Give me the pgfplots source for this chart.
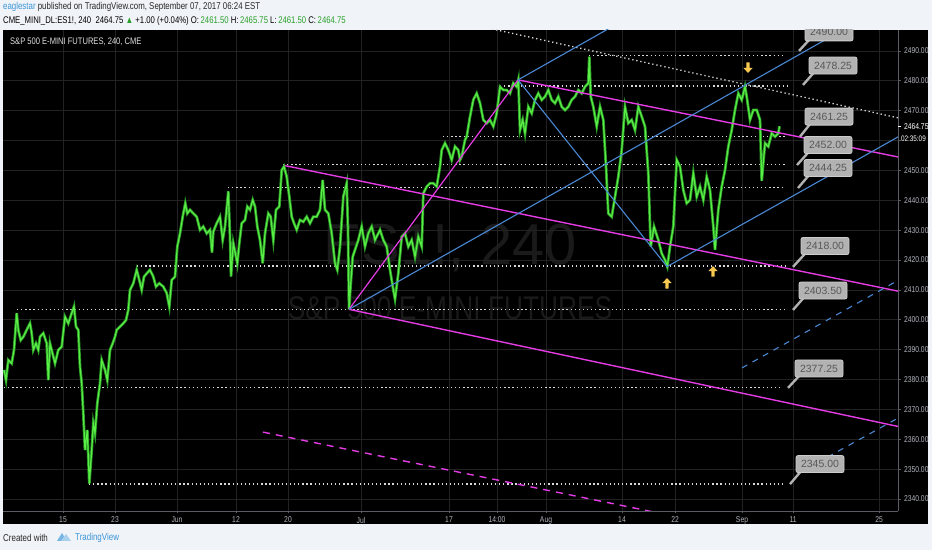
\documentclass[border=0pt]{standalone}
\usepackage{pgfplots}
\pgfplotsset{compat=1.18}
\usepackage{fontspec}
\setmainfont{Liberation Sans}
\newfontfamily\condfont{Liberation Sans}[FakeStretch=0.8]
\definecolor{bglight}{RGB}{240,243,248}
\definecolor{gridc}{RGB}{34,34,34}
\definecolor{axisc}{RGB}{90,92,100}
\definecolor{labc}{RGB}{178,181,190}
\definecolor{pricec}{RGB}{90,238,70}
\definecolor{priced}{RGB}{40,150,36}
\definecolor{magc}{RGB}{228,60,228}
\definecolor{bluec}{RGB}{74,136,212}
\definecolor{arrc}{RGB}{248,200,80}
\definecolor{calfill}{RGB}{178,178,178}
\definecolor{calborder}{RGB}{205,205,205}
\definecolor{caltext}{RGB}{88,88,88}
\definecolor{wm}{RGB}{26,26,26}
\definecolor{hdtext}{RGB}{40,40,40}
\definecolor{hdblue}{RGB}{60,150,215}
\definecolor{hdgreen}{RGB}{40,160,40}
\pgfdeclareplotmark{darrow}{%
  \pgfpathmoveto{\pgfqpoint{-1.6pt}{5.5pt}}\pgfpathlineto{\pgfqpoint{1.6pt}{5.5pt}}%
  \pgfpathlineto{\pgfqpoint{1.6pt}{0pt}}\pgfpathlineto{\pgfqpoint{4.6pt}{0pt}}%
  \pgfpathlineto{\pgfqpoint{0pt}{-5pt}}\pgfpathlineto{\pgfqpoint{-4.6pt}{0pt}}%
  \pgfpathlineto{\pgfqpoint{-1.6pt}{0pt}}\pgfpathclose\pgfusepathqfill}
\pgfdeclareplotmark{uarrow}{%
  \pgfpathmoveto{\pgfqpoint{-1.6pt}{-5.5pt}}\pgfpathlineto{\pgfqpoint{1.6pt}{-5.5pt}}%
  \pgfpathlineto{\pgfqpoint{1.6pt}{0pt}}\pgfpathlineto{\pgfqpoint{4.6pt}{0pt}}%
  \pgfpathlineto{\pgfqpoint{0pt}{5pt}}\pgfpathlineto{\pgfqpoint{-4.6pt}{0pt}}%
  \pgfpathlineto{\pgfqpoint{-1.6pt}{0pt}}\pgfpathclose\pgfusepathqfill}
\tikzset{
  dotline/.style={white!85!black, line width=1.3bp, dash pattern=on 1.3bp off 2.8bp},
  callbox/.style={draw=calborder, fill=calfill, rounded corners=2bp, minimum width=48bp, minimum height=17bp, inner sep=0pt, font=\fontsize{10.5}{10.5}\selectfont, text=caltext, line width=0.8bp},
}
\newcommand{\callout}[5]{%
  \draw[calfill, line width=2.4bp] (axis cs:#3,#4) -- (axis cs:#1-13,#2);
  \node[callbox] at (axis cs:#1,#2) {#5};}
\pgfplotstableread{
x y
4 2383.2
6 2379.8
8.3 2386.5
11.7 2385.4
14 2389.9
16.7 2402.2
18.3 2396.6
20.7 2393.2
23.3 2394.3
26.7 2396.6
30 2398.8
31.7 2395.5
33.3 2389.9
36 2392.1
38.3 2389.9
40 2394.3
43.3 2395.5
46.7 2392.1
48.3 2379.8
50 2392.1
53.3 2387.7
55 2385.4
58.3 2389.9
61.7 2391.0
65 2401.0
68.3 2398.8
71.7 2402.2
74 2404.4
76 2397.7
78.3 2396.6
80 2384.3
81.7 2378.7
83.3 2368.7
85 2356.4
87.3 2363.1
89.3 2345.2
91.7 2356.4
93.3 2365.3
95 2362.0
97.3 2372.0
100 2378.7
101.7 2386.5
105 2383.2
107.3 2379.8
110 2389.9
112.7 2392.1
115 2394.3
116.7 2396.6
120 2397.7
123.3 2398.8
126 2399.9
128.3 2403.3
130 2410.0
133.3 2412.2
136.7 2416.7
139.3 2413.3
141.7 2410.0
144 2414.4
146.7 2415.5
150 2416.7
153.3 2414.4
156 2411.1
159.3 2412.2
163.3 2411.1
166.7 2408.9
169.3 2404.4
171.7 2413.3
175 2414.4
177.3 2424.5
180 2428.9
182.7 2434.5
185.3 2439.0
187.3 2435.6
190 2436.8
193.3 2435.6
196.7 2434.5
200 2430.1
203.3 2431.2
206.7 2428.9
210 2430.1
212 2422.5
213.3 2429.5
216.7 2432.3
220 2434.5
222.7 2426.7
225 2431.2
228.3 2443.0
230 2427.8
231 2414.5
233.3 2425.6
236 2421.1
237.3 2418.9
239.3 2425.6
241.7 2432.3
245 2433.4
247.3 2437.9
250 2436.8
252.7 2440.1
255 2437.9
257.3 2431.2
260 2426.7
262.7 2418.9
265 2428.9
268.3 2435.6
270.7 2434.5
273.3 2426.7
276 2436.8
279.3 2437.9
281.7 2450.1
284 2451.3
286.7 2447.9
289.3 2441.2
291.7 2434.5
294 2432.3
296.7 2430.1
300 2433.4
303.3 2432.8
306.7 2434.5
310 2432.3
313.3 2434.5
316.7 2434.5
320 2436.8
322.7 2446.8
325 2436.8
328.3 2435.6
331.7 2428.9
335 2418.9
337.3 2416.7
340 2424.5
343.3 2441.2
346.7 2445.7
348 2430
349 2403.5
350.5 2411
352.7 2421.1
355 2423.4
358.3 2426.7
361.7 2431.2
365 2424.5
368.3 2428.9
371.7 2431.2
375 2426.7
380 2430.1
383.3 2426.7
386.7 2424.5
390 2416.7
393.3 2410.0
395 2406.9
398.3 2415.5
401.7 2427.8
405 2428.9
408.3 2424.5
411.7 2426.7
415 2421.1
418.3 2427.8
421.7 2424.5
423.3 2442.3
426.7 2444.6
430 2445.7
433.3 2445.7
436.7 2444.6
440 2451.3
441.7 2456.8
445 2459.1
448.3 2456.8
451.7 2453.5
455 2458.0
458.3 2456.8
460 2453.5
461.7 2454.6
465 2460.2
466.7 2461.3
470 2468.0
473.3 2473.6
476.7 2475.8
480 2472.5
483.3 2466.9
486.7 2465.8
490 2466.9
493.3 2464.7
496.7 2469.1
500 2478.0
503.3 2476.9
506.7 2476.9
510 2475.8
513.3 2479.2
516.7 2478.0
518.3 2480.3
520 2463.5
522.7 2466.9
525 2462.4
528.3 2471.3
531.7 2469.1
535 2473.6
538.3 2475.8
541.7 2473.6
545 2474.7
548.3 2476.9
551.7 2473.6
555 2472.5
558.3 2474.7
561.7 2471.3
565 2470.2
568.3 2471.3
571.7 2473.6
575 2474.7
578.3 2476.9
581.7 2475.8
585 2478.0
588.3 2479.2
589.3 2488.1
590.7 2474.7
593.3 2471.3
596.7 2464.7
600 2471.3
603.3 2466.9
606 2451.3
608.3 2435.6
611.7 2434.5
615 2441.2
618.3 2447.9
621.7 2456.8
625 2471.3
628.3 2465.8
631.7 2466.9
635 2463.5
638.3 2471.3
641.7 2468.0
645 2464.7
648.3 2449.0
650.7 2424.5
654 2431.2
658.3 2426.7
661.7 2422.2
665 2420.0
667.3 2417.8
670 2424.5
673.3 2431.2
676.7 2453.5
680 2451.3
683.3 2443.4
686.7 2439.0
690 2440.1
693.3 2449.0
696.7 2441.2
700 2444.6
703.3 2440.1
706.7 2447.9
710 2443.4
713.3 2431.2
715 2423.4
718.3 2436.8
721.7 2444.6
725 2450.1
728.3 2458.0
731.7 2463.5
735 2470.2
738.3 2475.8
741.7 2473.6
745 2478.0
746.7 2474.7
750 2466.9
753.3 2470.2
756.7 2470.2
760 2466.9
761.7 2446.5
765 2459.1
768.3 2458.0
771.7 2462.4
775 2461.3
778.3 2462.4
779.5 2464.75
}\pricetable
\begin{document}
\begin{tikzpicture}[x=1bp,y=1bp]
\useasboundingbox (0,0) rectangle (932,550);
\fill[bglight] (0,0) rectangle (932,550);
\fill[black] (3,26) rectangle (928,520);
% watermark
\node[text=wm, font=\fontsize{58}{58}\selectfont] at (450,302) {ES1!, 240};
\node[text=wm, font=\condfont\fontsize{33}{33}\selectfont] at (450,242) {S\&P 500 E-MINI FUTURES};
\begin{axis}[
  at={(3bp,39bp)}, anchor=south west,
  width=895bp, height=481bp, scale only axis,
  xmin=3, xmax=898, ymin=2336, ymax=2497,
  axis x line*=bottom, axis y line*=right,
  axis line style={draw=axisc, line width=0.8bp, -},
  xtick={63,115,177,236,288,361,449,497,546,622,675,742,793,879},
  xticklabels={15,23,Jun,12,20,Jul,17,14:00,Aug,14,22,Sep,11,25},
  ytick={2340,2350,...,2490},
  yticklabels={2340.00,2350.00,2360.00,2370.00,2380.00,2390.00,2400.00,2410.00,2420.00,2430.00,2440.00,2450.00,{},2470.00,2480.00,2490.00},
  grid=major, major grid style={gridc, line width=0.7bp},
  tick align=outside, major tick length=2.5bp, tick style={axisc, line width=0.7bp},
  ticklabel style={font=\condfont\fontsize{8.5}{9}\selectfont, text=labc},
  extra y ticks={2464.75},
  extra y tick labels={2464.75},
  extra y tick style={grid=none, tick style={white}, yticklabel style={text=white}},
]
% horizontal dotted support / resistance levels
\addplot[dotline] coordinates {(589,2488.5) (785,2488.5)};
\addplot[dotline] coordinates {(500,2478.25) (788,2478.25)};
\addplot[dotline] coordinates {(443,2461.25) (787,2461.25)};
\addplot[dotline] coordinates {(283,2452) (785,2452)};
\addplot[dotline] coordinates {(228,2444.25) (785,2444.25)};
\addplot[dotline] coordinates {(137,2418) (785,2418)};
\addplot[dotline] coordinates {(17,2403.5) (785,2403.5)};
\addplot[dotline] coordinates {(4,2377.25) (780,2377.25)};
\addplot[dotline] coordinates {(89,2345) (785,2345)};
% descending dotted trend line
\addplot[dotline] coordinates {(460,2499.7) (898,2467.6)};
% price (4h bars traced as a close line)
\addplot[priced, line width=2.8bp, line join=miter] table[x=x,y=y] {\pricetable};
\addplot[pricec, line width=1.2bp, line join=miter] table[x=x,y=y] {\pricetable};
% magenta lines
\addplot[magc, line width=1.4bp] coordinates {(285,2451.6) (898,2409.6)};
\addplot[magc, line width=1.4bp] coordinates {(349,2403.5) (898,2364.3)};
\addplot[magc, line width=1.4bp] coordinates {(518,2480.3) (898,2454.5)};
\addplot[magc, line width=1.2bp] coordinates {(349,2403.5) (518,2480.3)};
\addplot[magc, line width=1.4bp, dash pattern=on 7bp off 6bp] coordinates {(263,2362.4) (700,2332.5)};
% blue lines
\addplot[bluec, line width=1.1bp] coordinates {(349,2403.5) (898,2507.5)};
\addplot[bluec, line width=1.1bp] coordinates {(518,2480.3) (620,2499.6)};
\addplot[bluec, line width=1.1bp] coordinates {(518,2480.3) (667,2417.8)};
\addplot[bluec, line width=1.1bp] coordinates {(667,2417.8) (898,2461.2)};
\addplot[bluec, line width=1.1bp, dash pattern=on 6bp off 6bp] coordinates {(742,2383.9) (898,2413.2)};
\addplot[bluec, line width=1.1bp, dash pattern=on 6bp off 6bp] coordinates {(817,2352.1) (898,2367.1)};
% yellow arrows
\addplot[only marks, mark=darrow, arrc] coordinates {(748,2484.3)};
\addplot[only marks, mark=uarrow, arrc] coordinates {(667,2412.3) (713,2416.3)};
% price callouts
\begin{scope}
\clip (axis cs:3,2336) rectangle (axis cs:898,2497);
\callout{829}{2496.2}{799}{2490.0}{2490.00}
\callout{833}{2485.1}{803}{2478.6}{2478.25}
\callout{829}{2468.0}{800}{2461.3}{2461.25}
\callout{828}{2458.5}{797}{2451.8}{2452.00}
\callout{828}{2450.8}{798}{2444.1}{2444.25}
\callout{825}{2424.7}{793}{2417.7}{2418.00}
\callout{823}{2409.8}{793}{2403.3}{2403.50}
\callout{819}{2383.7}{788}{2377.2}{2377.25}
\callout{820}{2351.7}{790}{2345.0}{2345.00}
\end{scope}
\coordinate (clock) at (axis cs:898,2460.6);
\end{axis}
\node[anchor=west, inner sep=0pt, text=white, font=\condfont\fontsize{8}{8.5}\selectfont] at ([xshift=2.8bp]clock) {02:35:09};
% chart title inside the pane
\node[anchor=west, inner sep=0pt, text=white!88!black, font=\condfont\fontsize{9.5}{10}\selectfont] at (10,508) {S\&P 500 E-MINI FUTURES, 240, CME};
% header
\node[anchor=west, inner sep=0pt, font=\condfont\fontsize{9.9}{11}\selectfont, text=hdtext] at (3,543)
  {\textcolor{hdblue}{eaglestar} published on TradingView.com, September 07, 2017 06:24 EST};
\node[anchor=west, inner sep=0pt, font=\condfont\fontsize{9.7}{11}\selectfont, text=black] at (3,529)
  {CME\_MINI\_DL:ES1!, 240\ \ 2464.75 \textcolor{hdgreen}{▲} +1.00 (+0.04\%) O:\,\textcolor{hdgreen}{2461.50} H:\,\textcolor{hdgreen}{2465.75} L:\,\textcolor{hdgreen}{2461.50} C:\,\textcolor{hdgreen}{2464.75}};
% footer
\node[anchor=west, inner sep=0pt, font=\condfont\fontsize{10}{11}\selectfont, text=hdtext] at (3,12) {Created with};
\fill[hdblue!70] (57,9) -- (62,17) -- (67,9) -- cycle;
\fill[hdblue!45] (61,9) -- (66,16) -- (71,9) -- cycle;
\node[anchor=west, inner sep=0pt, font=\condfont\fontsize{10}{11}\selectfont, text=hdblue] at (75,12) {TradingView};
\end{tikzpicture}
\end{document}
